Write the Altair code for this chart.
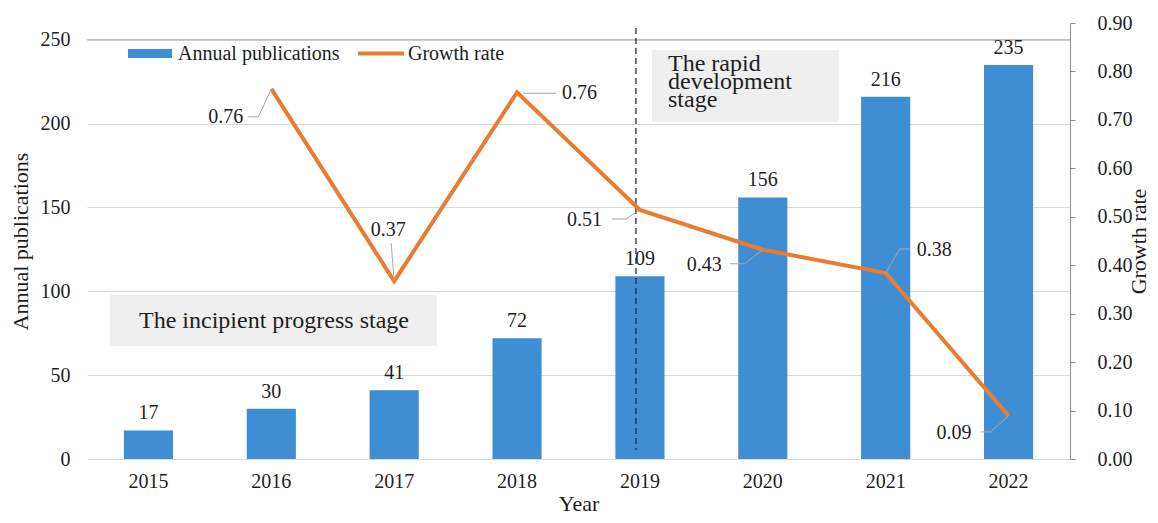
import altair as alt
import pandas as pd

# ---- data ----
years = ["2015", "2016", "2017", "2018", "2019", "2020", "2021", "2022"]
publications = [17, 30, 41, 72, 109, 156, 216, 235]
growth_rate = [None, 0.764, 0.367, 0.757, 0.514, 0.432, 0.384, 0.089]
left_ticks = [0, 50, 100, 150, 200, 250]
right_ticks = [0.0, 0.1, 0.2, 0.3, 0.4, 0.5, 0.6, 0.7, 0.8, 0.9]
stage_texts = ["The incipient progress stage", ["The rapid", "development", "stage"]]
legend_names = ["Annual publications", "Growth rate"]

df = pd.DataFrame({"year": years, "pubs": publications, "growth": growth_rate})

SERIF = "Liberation Serif"
BLUE = "#3F8ED4"
ORANGE = "#E97C30"
TXT = "#1E1E1E"
LEAD = "#A8A8A8"

W, H = 983, 436

base = alt.Chart(df)
x_enc = alt.X(
    "year:N",
    title="Year",
    scale=alt.Scale(paddingInner=0.6, paddingOuter=0.3),
    axis=alt.Axis(labelAngle=0, domain=False, ticks=False, labelPadding=12,
                  titleBaseline="alphabetic", titleY=51, grid=False),
)

# ---------- left (publications) group ----------
y_left = alt.Y(
    "pubs:Q",
    title="Annual publications",
    scale=alt.Scale(domain=[0, 250]),
    axis=alt.Axis(values=left_ticks, grid=True, gridColor="#D9D9D9", domain=False,
                  ticks=False, labelPadding=17, titlePadding=8),
)

one = alt.Chart(pd.DataFrame({"k": [0]}))

box1 = one.mark_rect(color="#EFEFEF").encode(
    x=alt.value(23), x2=alt.value(350), y=alt.value(272), y2=alt.value(323))
box2 = one.mark_rect(color="#EFEFEF").encode(
    x=alt.value(565), x2=alt.value(752), y=alt.value(27), y2=alt.value(99))
box1_txt = alt.Chart(pd.DataFrame({"t": [stage_texts[0]]})).mark_text(
    font=SERIF, fontSize=24, color=TXT, align="center", baseline="alphabetic"
).encode(x=alt.value(187), y=alt.value(305), text="t:N")
box2_txt = one.mark_text(
    font=SERIF, fontSize=24, color=TXT, align="left", baseline="alphabetic",
    lineHeight=18, text=stage_texts[1]
).encode(x=alt.value(581), y=alt.value(48))

top_line = one.mark_rule(color="#A6A6A6", strokeWidth=1).encode(
    y=alt.datum(250), x=alt.value(0), x2=alt.value(W))

bars = base.mark_bar(color=BLUE).encode(x=x_enc, y=y_left)
bar_labels = base.mark_text(font=SERIF, fontSize=20, color=TXT, baseline="alphabetic",
                            dy=-11).encode(x="year:N", y="pubs:Q", text="pubs:Q")

divider = base.transform_filter("datum.year == '2019'").mark_rule(
    color="#1F2D4A", strokeWidth=1.3, strokeDash=[6, 4], xOffset=-4
).encode(x="year:N", y=alt.value(5), y2=alt.value(427))

# legend
leg_rect = one.mark_rect(color=BLUE).encode(
    x=alt.value(41), x2=alt.value(85), y=alt.value(26), y2=alt.value(35))
leg_t1 = alt.Chart(pd.DataFrame({"t": [legend_names[0]]})).mark_text(
    font=SERIF, fontSize=20, color=TXT, align="left", baseline="middle"
).encode(x=alt.value(91), y=alt.value(30.5), text="t:N")
leg_line = one.mark_rule(color=ORANGE, strokeWidth=4).encode(
    x=alt.value(271), x2=alt.value(317), y=alt.value(30.5))
leg_t2 = alt.Chart(pd.DataFrame({"t": [legend_names[1]]})).mark_text(
    font=SERIF, fontSize=20, color=TXT, align="left", baseline="middle"
).encode(x=alt.value(321), y=alt.value(30.5), text="t:N")

left_group = alt.layer(top_line, box1, box2, box1_txt, box2_txt, bars, bar_labels,
                       divider, leg_rect, leg_t1, leg_line, leg_t2)

# ---------- right (growth) group ----------
y_right = alt.Y(
    "growth:Q",
    title="Growth rate",
    scale=alt.Scale(domain=[0, 0.9]),
    axis=alt.Axis(orient="right", values=right_ticks, format=".2f", grid=False,
                  domain=True, domainColor="#8A8A8A", ticks=True, tickColor="#8A8A8A",
                  tickSize=5, labelPadding=22, titleAngle=270,
                  titleBaseline="middle", titleX=68),
)
gbase = base.transform_filter("datum.growth != null")
line = gbase.mark_line(color=ORANGE, strokeWidth=4).encode(x="year:N", y=y_right)

# label placement: (year, dx, dy, align, leader segments as offsets from the point)
label_specs = [
    ("2016", -28, 28, "right", [(-23, 28, -13, 28), (-13, 28, 0, 0)]),
    ("2017", -6, -51, "center", [(0, 0, -3, -38)]),
    ("2018", 45, 1, "left", [(6, 1, 39, 1)]),
    ("2019", -38, 10, "right", [(-28, 9, -14, 9), (-14, 9, 0, 0)]),
    ("2020", -41, 15, "right", [(-33, 14, -18, 14), (-18, 14, 0, 0)]),
    ("2021", 31, -23, "left", [(0, 0, 14, -24), (14, -24, 24, -24)]),
    ("2022", -37, 17, "right", [(-28, 16, -18, 16), (-18, 16, 0, 0)]),
]

g_layers = [line]
for yr, dx, dy, al, segs in label_specs:
    sub = gbase.transform_filter(f"datum.year == '{yr}'")
    for (ax, ay, bx, by) in segs:
        g_layers.append(
            sub.mark_rule(color=LEAD, strokeWidth=1, xOffset=ax, yOffset=ay,
                          x2Offset=bx, y2Offset=by).encode(
                x="year:N", x2="year:N", y="growth:Q", y2="growth:Q"))
    g_layers.append(
        sub.mark_text(font=SERIF, fontSize=20, color=TXT, align=al, baseline="middle",
                      dx=dx, dy=dy).encode(
            x="year:N", y="growth:Q", text=alt.Text("growth:Q", format=".2f")))

right_group = alt.layer(*g_layers)

chart = alt.layer(left_group, right_group).resolve_scale(y="independent").properties(
    width=W, height=H,
    autosize=alt.AutoSizeParams(type="none"),
    padding={"left": 79, "top": 15, "right": 80, "bottom": 56},
).configure_view(stroke=None).configure_axis(
    labelFont=SERIF, titleFont=SERIF, labelFontSize=20, titleFontSize=22,
    titleFontWeight="normal", labelColor=TXT, titleColor=TXT,
).configure_text(font=SERIF)

chart.save("out.html", embed_options={"renderer": "svg", "actions": False})
